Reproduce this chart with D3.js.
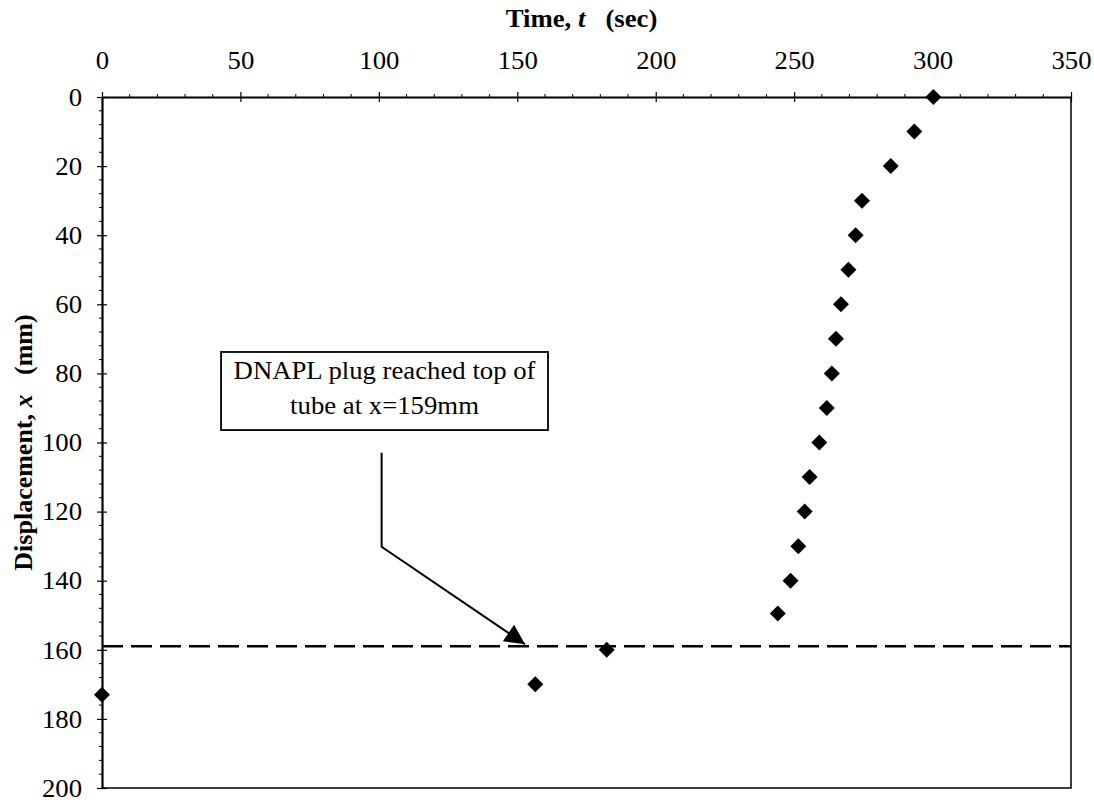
<!DOCTYPE html>
<html>
<head>
<meta charset="utf-8">
<script src="https://cdn.jsdelivr.net/npm/d3@7"></script>
<style>
  html, body { margin: 0; padding: 0; background: #fff; }
  svg { display: block; }
  text { font-family: "Liberation Serif", "Times New Roman", serif; fill: #000; }
</style>
</head>
<body>
<div id="chart"></div>
<script>
// measured points: time (sec) vs displacement (mm)
const timeSec = [0, 156.5, 182.3, 244.1, 248.7, 251.5, 253.8, 255.6, 259.1, 261.8,
                 263.6, 265.1, 266.9, 269.6, 272.2, 274.5, 284.9, 293.4, 300.3];
const displacementMm = [173, 170, 160, 149.5, 140, 130, 120, 110, 100, 90,
                        80, 70, 60, 50, 40, 30, 20, 10, 0];

const timeTicks = [0, 50, 100, 150, 200, 250, 300, 350];
const dispTicks = [0, 20, 40, 60, 80, 100, 120, 140, 160, 180, 200];
const plugLevel = 159;

// annotation (data units)
const noteLines = ["DNAPL plug reached top of", "tube at x=159mm"];
const noteBox = { t0: 43, t1: 161.1, x0: 73.8, x1: 96.4 };
const leader = [[101, 103], [101, 130.2], [152.8, 158.4]];

const width = 1094, height = 804;
const margin = { top: 97, right: 23, bottom: 16, left: 102 };
const fontPx = 25;
const stretch = 1.07; // the scanned lettering is a bit wider than plain Times

const svg = d3.select("#chart").append("svg")
    .attr("width", width)
    .attr("height", height);

const x = d3.scaleLinear().domain([0, 350]).range([margin.left, width - margin.right]);
const y = d3.scaleLinear().domain([0, 200]).range([margin.top, height - margin.bottom]);

// frame: right and bottom edges lighter
svg.append("path")
    .attr("d", `M${x(350)},${y(0)}V${y(200)}H${x(0)}`)
    .attr("fill", "none")
    .attr("stroke", "#000")
    .attr("stroke-width", 1.5);

// minor ticks
svg.append("g")
    .selectAll("line")
    .data(d3.range(0, 351, 10).filter(d => d % 50 !== 0))
    .join("line")
    .attr("x1", d => x(d)).attr("x2", d => x(d))
    .attr("y1", y(0) - 3).attr("y2", y(0))
    .attr("stroke", "#000").attr("stroke-width", 1);

svg.append("g")
    .selectAll("line")
    .data(d3.range(0, 201, 4).filter(d => d % 20 !== 0))
    .join("line")
    .attr("y1", d => y(d)).attr("y2", d => y(d))
    .attr("x1", x(0) - 3).attr("x2", x(0))
    .attr("stroke", "#000").attr("stroke-width", 1);

// top axis
const topAxis = svg.append("g")
    .attr("transform", `translate(0,${y(0)})`)
    .call(d3.axisTop(x).tickValues(timeTicks).tickSize(5).tickPadding(0).tickSizeOuter(0));

topAxis.select(".domain").attr("stroke-width", 2.2);
topAxis.selectAll(".tick line").attr("y2", -5).attr("y1", 5).attr("stroke-width", 1.2);
topAxis.selectAll(".tick text")
    .attr("y", -28)
    .attr("dy", 0)
    .attr("transform", `scale(${stretch},1)`)
    .style("font-size", fontPx + "px");

// left axis
const leftAxis = svg.append("g")
    .attr("transform", `translate(${x(0)},0)`)
    .call(d3.axisLeft(y).tickValues(dispTicks).tickSize(5).tickPadding(0).tickSizeOuter(0));

leftAxis.select(".domain").attr("stroke-width", 2.2);
leftAxis.selectAll(".tick line").attr("x2", -5).attr("x1", 5).attr("stroke-width", 1.2);
leftAxis.selectAll(".tick text")
    .attr("x", -20 / stretch)
    .attr("dy", "0.33em")
    .attr("transform", `scale(${stretch},1)`)
    .style("font-size", fontPx + "px");

// axis titles
const xTitle = svg.append("text")
    .attr("transform", `translate(${(x(0) + x(350)) / 2 - 5},27) scale(${stretch},1)`)
    .attr("text-anchor", "middle")
    .style("font-size", fontPx + "px")
    .style("font-weight", "bold")
    .attr("xml:space", "preserve");
xTitle.append("tspan").text("Time, ");
xTitle.append("tspan").style("font-style", "italic").text("t");
xTitle.append("tspan").text("   (sec)");

const yTitle = svg.append("text")
    .attr("transform", `translate(32,${(y(0) + y(200)) / 2}) rotate(-90)`)
    .attr("text-anchor", "middle")
    .style("font-size", "26px")
    .style("font-weight", "bold")
    .attr("xml:space", "preserve");
yTitle.append("tspan").text("Displacement, ");
yTitle.append("tspan").style("font-style", "italic").text("x");
yTitle.append("tspan").text("   (mm)");

// plug level
svg.append("line")
    .attr("x1", x(0)).attr("x2", x(350))
    .attr("y1", y(plugLevel)).attr("y2", y(plugLevel))
    .attr("stroke", "#000")
    .attr("stroke-width", 2.5)
    .attr("stroke-dasharray", "21,8");

// annotation box
svg.append("rect")
    .attr("x", x(noteBox.t0))
    .attr("y", y(noteBox.x0))
    .attr("width", x(noteBox.t1) - x(noteBox.t0))
    .attr("height", y(noteBox.x1) - y(noteBox.x0))
    .attr("fill", "#fff")
    .attr("stroke", "#000")
    .attr("stroke-width", 1.8);

const boxCx = (x(noteBox.t0) + x(noteBox.t1)) / 2;
svg.append("g")
    .selectAll("text")
    .data(noteLines)
    .join("text")
    .attr("transform", (d, i) => `translate(${boxCx},${y(noteBox.x0) + 27 + i * 35}) scale(${stretch},1)`)
    .attr("text-anchor", "middle")
    .style("font-size", fontPx + "px")
    .text(d => d);

// leader with arrow
svg.append("defs").append("marker")
    .attr("id", "head")
    .attr("viewBox", "0 0 10 10")
    .attr("refX", 10).attr("refY", 5)
    .attr("markerUnits", "userSpaceOnUse")
    .attr("markerWidth", 24).attr("markerHeight", 20)
    .attr("orient", "auto")
    .append("path")
    .attr("d", "M0,0L10,5L0,10Z")
    .attr("fill", "#000");

svg.append("path")
    .attr("d", d3.line().x(d => x(d[0])).y(d => y(d[1]))(leader))
    .attr("fill", "none")
    .attr("stroke", "#000")
    .attr("stroke-width", 2)
    .attr("marker-end", "url(#head)");

// data markers
const pts = timeSec.map((t, i) => ({ t, d: displacementMm[i] }));
svg.append("g")
    .selectAll("path")
    .data(pts)
    .join("path")
    .attr("transform", d => `translate(${x(d.t)},${y(d.d)}) rotate(45)`)
    .attr("d", d3.symbol(d3.symbolSquare, 128))
    .attr("fill", "#000");
</script>
</body>
</html>
